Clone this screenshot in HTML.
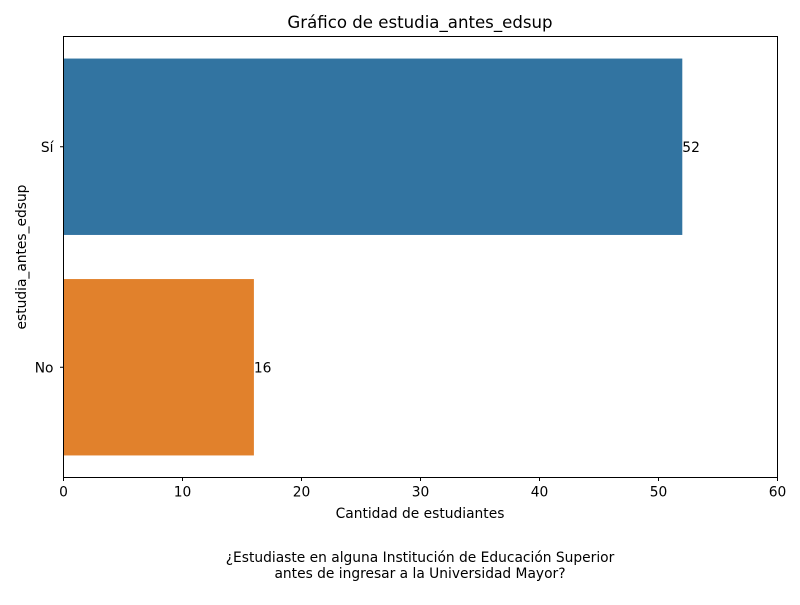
<!DOCTYPE html>
<html><head><meta charset="utf-8"><style>
body{margin:0;background:#fff}
svg text{font-family:"DejaVu Sans","Liberation Sans",sans-serif;fill:#000}
</style></head><body>
<svg id="chart" width="800" height="600" viewBox="0 0 800 600" xmlns="http://www.w3.org/2000/svg">
<rect width="800" height="600" fill="#fff"/>
<text x="420" y="28" font-size="16.6" text-anchor="middle">Gráfico de estudia_antes_edsup</text>
<g id="bars"></g>
<rect x="63.5" y="36.5" width="714" height="441" fill="none" stroke="#000" stroke-width="1"/>
<g id="xticks"></g>
<g id="yticks"></g>
<text x="420" y="518" font-size="13.8" text-anchor="middle">Cantidad de estudiantes</text>
<text transform="translate(26,257) rotate(-90)" font-size="13.8" text-anchor="middle">estudia_antes_edsup</text>
<text x="420" y="562" font-size="13.8" text-anchor="middle">¿Estudiaste en alguna Institución de Educación Superior</text>
<text x="420" y="578" font-size="13.8" text-anchor="middle">antes de ingresar a la Universidad Mayor?</text>
</svg>
<script>
const categories = ["Sí", "No"];
const values = [52, 16];
const xTicks = [0, 10, 20, 30, 40, 50, 60];
const colors = ["#3274a1", "#e1812c"];
const NS = "http://www.w3.org/2000/svg";
const x0 = 63.5, x1 = 777.5, y0 = 36.5, y1 = 477.5, xMax = 60;
const xs = v => x0 + (v / xMax) * (x1 - x0);
const band = (y1 - y0) / categories.length;
const yc = i => y0 + band * (i + 0.5);
function mk(tag, attrs, parent) { const e = document.createElementNS(NS, tag); for (const k in attrs) e.setAttribute(k, attrs[k]); parent.appendChild(e); return e; }
const bars = document.getElementById("bars");
const yt = document.getElementById("yticks");
categories.forEach((c, i) => {
  const h = band * 0.8;
  const r = mk("rect", {x: xs(0), y: yc(i) - h / 2, width: xs(values[i]) - xs(0), height: h, fill: colors[i]}, bars);
  
  
  const l = mk("text", {x: xs(values[i]), y: yc(i) + 5, "font-size": 13.8}, bars);
  l.textContent = values[i];
  
  
  mk("line", {x1: x0 - 3.5, x2: x0, y1: yc(i), y2: yc(i), stroke: "#000"}, yt);
  const t = mk("text", {x: x0 - 10, y: yc(i) + 5, "font-size": 13.8, "text-anchor": "end"}, yt);
  t.textContent = c;
  
  
});
const xt = document.getElementById("xticks");
xTicks.forEach(v => {
  mk("line", {x1: xs(v), x2: xs(v), y1: y1, y2: y1 + 3.5, stroke: "#000"}, xt);
  const t = mk("text", {x: xs(v), y: y1 + 19, "font-size": 13.8, "text-anchor": "middle"}, xt);
  t.textContent = v;
  
  
});
</script>
</body></html>
